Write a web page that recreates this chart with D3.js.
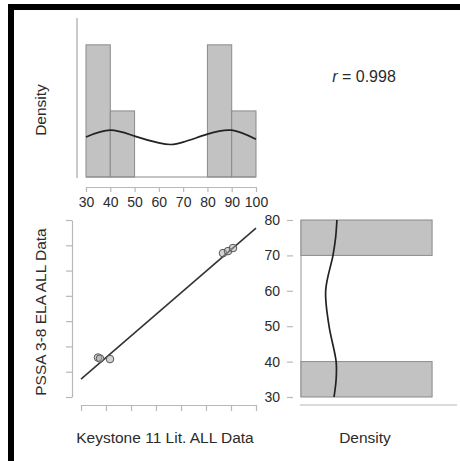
<!DOCTYPE html>
<html>
<head>
<meta charset="utf-8">
<script src="https://cdn.jsdelivr.net/npm/d3@7"></script>
<style>
  html, body { margin: 0; padding: 0; background: #fff; }
  svg { display: block; }
  text { font-family: "Liberation Sans", Arial, sans-serif; fill: #2b2b2b; }
</style>
</head>
<body>
<svg id="chart" width="460" height="461"></svg>
<script>
// Paired scores
const keystoneLit = [36.8, 37.6, 41.6, 86.8, 88.8, 90.8];
const pssaEla     = [35.6, 35.2, 35.0, 76.9, 77.7, 78.9];

// Fitted regression line (PSSA = intercept + slope * Keystone)
const fitIntercept = 1.5;
const fitSlope = 0.853;

// Kernel density outlines, sampled
const densX = [30, 40, 50, 60, 65, 70, 80, 90, 100];
const densXVal = [0.0101, 0.0118, 0.0103, 0.0086, 0.0082, 0.0088, 0.0108, 0.0118, 0.0095];
const densY = [30, 35, 40, 50, 60, 70, 75, 80];
const densYVal = [0.0126, 0.0134, 0.0134, 0.0107, 0.0094, 0.0122, 0.0132, 0.0137];

// Axis ticks
const xTicks = [30, 40, 50, 60, 70, 80, 90, 100];
const scatterYTicks = [20, 30, 40, 50, 60, 70, 80, 90];
const yTicks = [30, 40, 50, 60, 70, 80];
const corrLabel = "0.998";

const svg = d3.select("#chart");
const axisGrey = "#b8b8b8";
const barFill = "#c2c2c2";
const barStroke = "#8a8a8a";
const labelSize = "15.5px";
const tickSize = "14px";

// outer frame (top and left edges)
svg.append("path")
  .attr("d", "M11,461 L11,7 L460,7")
  .attr("fill", "none").attr("stroke", "#000").attr("stroke-width", 6);

// ---------- top: histogram of Keystone scores ----------
const xTop = d3.scaleLinear().domain([30, 100]).range([86, 256]);
const yTop = d3.scaleLinear().domain([0, 0.0401]).range([177, 18]);

const binsX = d3.bin().domain([30, 100]).thresholds(d3.range(30, 100, 10))(keystoneLit);
const nX = keystoneLit.length;
const topPanel = svg.append("g");
topPanel.selectAll("rect").data(binsX.filter(b => b.length > 0)).join("rect")
  .attr("x", b => xTop(b.x0))
  .attr("width", b => xTop(b.x1) - xTop(b.x0))
  .attr("y", b => yTop(b.length / (nX * (b.x1 - b.x0))))
  .attr("height", b => yTop(0) - yTop(b.length / (nX * (b.x1 - b.x0))))
  .attr("fill", barFill).attr("stroke", barStroke).attr("stroke-width", 1);
topPanel.append("line")
  .attr("x1", xTop(30)).attr("x2", xTop(100)).attr("y1", yTop(0)).attr("y2", yTop(0))
  .attr("stroke", barStroke);
topPanel.append("path")
  .datum(densX.map((v, i) => [v, densXVal[i]]))
  .attr("fill", "none").attr("stroke", "#222").attr("stroke-width", 1.7)
  .attr("d", d3.line().x(d => xTop(d[0])).y(d => yTop(d[1])).curve(d3.curveNatural));
// density axis
svg.append("line")
  .attr("x1", 77).attr("x2", 77).attr("y1", yTop.range()[1]).attr("y2", 178)
  .attr("stroke", axisGrey).attr("stroke-width", 1.5);
svg.append("text")
  .attr("transform", "translate(45.5,110) rotate(-90)")
  .attr("text-anchor", "middle").style("font-size", labelSize)
  .text("Density");

const gxTop = svg.append("g").attr("transform", "translate(0,187)")
  .call(d3.axisBottom(xTop).tickValues(xTicks).tickSize(5).tickSizeOuter(0).tickPadding(5));
gxTop.selectAll("text").style("font-size", tickSize);

// ---------- top right: correlation ----------
const rText = svg.append("text").attr("x", 364).attr("y", 82)
  .attr("text-anchor", "middle").style("font-size", "16px");
rText.append("tspan").style("font-style", "italic").text("r");
rText.append("tspan").text(" = " + corrLabel);

// ---------- bottom left: scatter ----------
const xSc = d3.scaleLinear().domain([30, 100]).range([81, 256]);
const ySc = d3.scaleLinear().domain([20, 90]).range([397, 220]);

svg.append("g").attr("transform", "translate(0,405)")
  .call(d3.axisBottom(xSc).tickValues(xTicks).tickSize(6).tickSizeOuter(0).tickFormat(""));
svg.append("g").attr("transform", "translate(72,0)")
  .call(d3.axisLeft(ySc).tickValues(scatterYTicks).tickSize(6).tickSizeOuter(0).tickFormat(""));

svg.append("line")
  .attr("x1", xSc(30)).attr("y1", ySc(fitIntercept + fitSlope * 30))
  .attr("x2", xSc(100)).attr("y2", ySc(fitIntercept + fitSlope * 100))
  .attr("stroke", "#333").attr("stroke-width", 1.6);

svg.append("g").selectAll("circle")
  .data(keystoneLit.map((v, i) => [v, pssaEla[i]])).join("circle")
  .attr("cx", d => xSc(d[0])).attr("cy", d => ySc(d[1])).attr("r", 3.8)
  .attr("fill", "#a8a8a8").attr("fill-opacity", 0.5)
  .attr("stroke", "#555").attr("stroke-width", 1);

svg.append("text")
  .attr("transform", "translate(46,312) rotate(-90)")
  .attr("text-anchor", "middle").style("font-size", labelSize)
  .text("PSSA 3-8 ELA ALL Data");
svg.append("text").attr("x", 165).attr("y", 443)
  .attr("text-anchor", "middle").style("font-size", labelSize)
  .text("Keystone 11 Lit. ALL Data");

// ---------- bottom right: histogram of PSSA scores ----------
const yRt = d3.scaleLinear().domain([30, 80]).range([397, 220]);
const xRt = d3.scaleLinear().domain([0, 0.0595]).range([301, 457]);
const binsY = d3.bin().domain([30, 80]).thresholds(d3.range(30, 80, 10))(pssaEla);
const nY = pssaEla.length;

svg.append("line")
  .attr("x1", xRt(0)).attr("x2", xRt(0)).attr("y1", yRt(80)).attr("y2", yRt(30))
  .attr("stroke", axisGrey).attr("stroke-width", 1.5);
svg.append("line")
  .attr("x1", 300).attr("x2", 457).attr("y1", 405).attr("y2", 405)
  .attr("stroke", "#cfcfcf").attr("stroke-width", 1.5);

svg.append("g").selectAll("rect").data(binsY.filter(b => b.length > 0)).join("rect")
  .attr("y", b => yRt(b.x1))
  .attr("height", b => yRt(b.x0) - yRt(b.x1))
  .attr("x", xRt(0))
  .attr("width", b => xRt(b.length / (nY * (b.x1 - b.x0))) - xRt(0))
  .attr("fill", barFill).attr("stroke", barStroke).attr("stroke-width", 1);

svg.append("path")
  .datum(densY.map((v, i) => [v, densYVal[i]]))
  .attr("fill", "none").attr("stroke", "#222").attr("stroke-width", 1.7)
  .attr("d", d3.line().y(d => yRt(d[0])).x(d => xRt(d[1])).curve(d3.curveCatmullRom));

const gyRt = svg.append("g").attr("transform", "translate(293,0)")
  .call(d3.axisLeft(yRt).tickValues(yTicks).tickSize(6).tickPadding(7));
gyRt.select(".domain").remove();
gyRt.selectAll("text").style("font-size", tickSize);

svg.append("text").attr("x", 365).attr("y", 443)
  .attr("text-anchor", "middle").style("font-size", labelSize)
  .text("Density");

// axis colours
svg.selectAll(".domain, .tick line").attr("stroke", axisGrey).attr("stroke-width", 1.2);
svg.selectAll(".tick text").attr("fill", "#2b2b2b");
</script>
</body>
</html>
